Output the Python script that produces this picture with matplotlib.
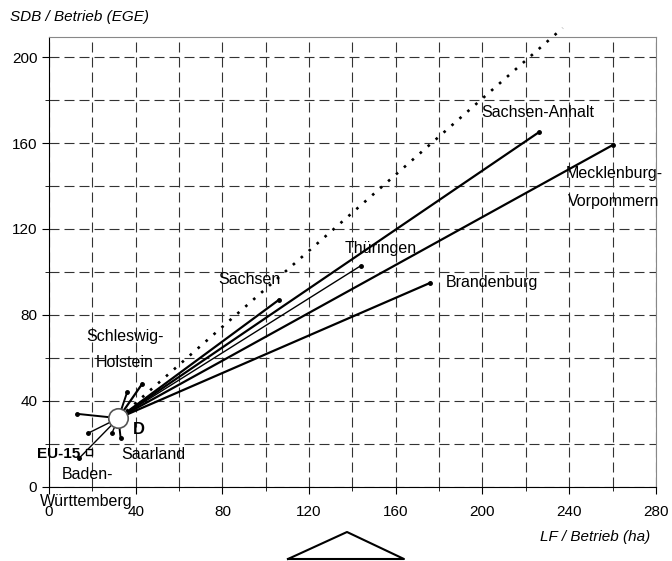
import matplotlib
matplotlib.use("Agg")
import matplotlib.pyplot as plt
from matplotlib.lines import Line2D
from matplotlib.ticker import MultipleLocator

plt.rcParams['font.family'] = ['Liberation Sans', 'DejaVu Sans']

# Germany (D) starting point
d_lf, d_sdb = 32, 32

# end points of the lines from D (LF / Betrieb, SDB / Betrieb)
laender = ['Sachsen-Anhalt', 'Mecklenburg-Vorpommern', 'Thüringen', 'Sachsen',
           'Brandenburg', 'Schleswig-Holstein', 'Niedersachsen',
           'Nordrhein-Westfalen', 'Rheinland-Pfalz', 'Hessen', 'Saarland',
           'Baden-Württemberg']
end_lf = [226, 260, 144, 106, 176, 43, 36, 13, 18, 29, 33, 14]
end_sdb = [165, 159, 103, 87, 95, 48, 44, 34, 25, 25, 23, 13.5]
widths = [1.6, 1.6, 1.0, 1.6, 1.6, 1.6, 1.4, 1.4, 1.0, 1.0, 1.4, 1.0]

# EU-15 reference point
eu_lf, eu_sdb = 18.5, 16.3

# dotted trend line end (beyond the frame)
trend_lf, trend_sdb = 237, 213.5

fig = plt.figure(figsize=(6.72, 5.61), dpi=100)
ax = fig.add_axes([0.073, 0.132, 0.903, 0.802])

ax.set_xlim(0, 280)
ax.set_ylim(0, 209.3)
ax.xaxis.set_major_locator(MultipleLocator(40))
ax.xaxis.set_minor_locator(MultipleLocator(20))
ax.yaxis.set_major_locator(MultipleLocator(40))
ax.yaxis.set_minor_locator(MultipleLocator(20))
ax.grid(True, which='both', linestyle=(0, (9, 4.5)), color='#333333', linewidth=0.8)
ax.set_axisbelow(True)
ax.tick_params(which='both', direction='out', labelsize=11, colors='black')
ax.tick_params(which='major', length=5)
ax.tick_params(which='minor', length=3)
ax.tick_params(axis='x', pad=8)
for s in ['top', 'right']:
    ax.spines[s].set_color('#888888')
for s in ['left', 'bottom']:
    ax.spines[s].set_color('black')

ax.plot([d_lf, trend_lf], [d_sdb, trend_sdb], linestyle=(0, (1, 3)), color='black',
        linewidth=1.9, clip_on=False)

for lf, sdb, lw in zip(end_lf, end_sdb, widths):
    ax.plot([d_lf, lf], [d_sdb, sdb], color='black', linewidth=lw)
    ax.plot(lf, sdb, 'o', color='black', markersize=2.5)

ax.plot(eu_lf, eu_sdb, marker='s', markersize=5, markerfacecolor='white',
        markeredgecolor='black', markeredgewidth=1, clip_on=False)
ax.plot(d_lf, d_sdb, 'o', markersize=14, markerfacecolor='white',
        markeredgecolor='#555555', markeredgewidth=1.2, zorder=5)

fs = 11.5
ax.text(199.4, 174, 'Sachsen-Anhalt', fontsize=fs, va='center')
ax.text(238.6, 146, 'Mecklenburg-', fontsize=fs, va='center', clip_on=False)
ax.text(239.5, 133, 'Vorpommern', fontsize=fs, va='center', clip_on=False)
ax.text(136.6, 111, 'Thüringen', fontsize=fs, va='center')
ax.text(78, 96.7, 'Sachsen', fontsize=fs, va='center')
ax.text(183.2, 94.9, 'Brandenburg', fontsize=fs, va='center')
ax.text(35, 69.8, 'Schleswig-', fontsize=fs, va='center', ha='center')
ax.text(35, 57.7, 'Holstein', fontsize=fs, va='center', ha='center')
ax.text(38.5, 26.5, 'D', fontsize=12, fontweight='bold', va='center')
ax.text(33.2, 15.3, 'Saarland', fontsize=fs, va='center')
ax.text(14.5, 15.3, 'EU-15', fontsize=11, fontweight='bold', va='center', ha='right',
        clip_on=False)
ax.text(17.8, 5.6, 'Baden-', fontsize=fs, va='center', ha='center')
ax.text(17.3, -7, 'Württemberg', fontsize=fs, va='center', ha='center', clip_on=False)

fig.text(10 / 672, 1 - 17 / 561, 'SDB / Betrieb (EGE)', fontsize=11, style='italic',
         va='center', ha='left')
fig.text(650 / 672, 1 - 537 / 561, 'LF / Betrieb (ha)', fontsize=11, style='italic',
         va='center', ha='right')

# small triangle marker below the x axis
tri_x = [288 / 672, 347 / 672, 404 / 672, 288 / 672]
tri_y = [1 - 559 / 561, 1 - 532 / 561, 1 - 559 / 561, 1 - 559 / 561]
fig.add_artist(Line2D(tri_x, tri_y, color='black', linewidth=1.5,
                      transform=fig.transFigure))

fig.savefig("out.png", dpi=100)
